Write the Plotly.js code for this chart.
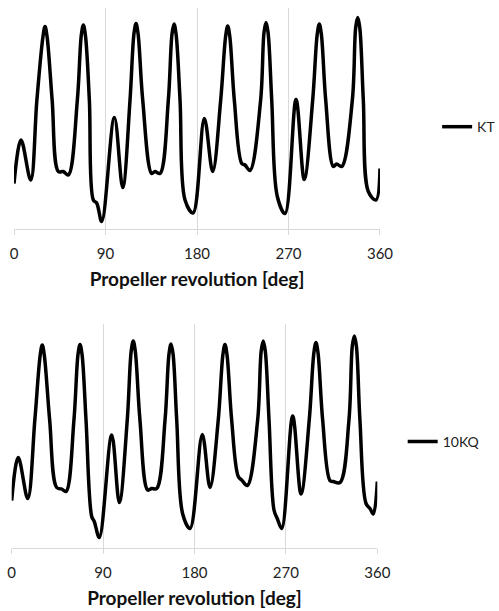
<!DOCTYPE html>
<html>
<head>
<meta charset="utf-8">
<script src="https://cdn.plot.ly/plotly-3.0.1.min.js"></script>
<style>html,body{margin:0;padding:0;background:#fff;}#chart{width:499px;height:611px;}</style>
</head>
<body>
<div id="chart"></div>
<script>
// Propeller revolution angle [deg] and KT values (top chart)
var ktDeg = [0, 6.9, 16.4, 22.5, 28.5, 30.5, 32.5, 37.5, 43.6, 48.5, 53.4, 62.3, 66.2, 68.2, 70.2, 74.1, 78.0, 81.3, 86.3,
  98.7, 106.9, 114.1, 118.0, 120.0, 122.0, 126.6, 135.4, 138.7, 143.6, 151.8, 155.4, 157.4, 159.4, 163.3, 168.2, 176.1,
  187.2, 195.4, 203.3, 208.2, 210.2, 212.2, 216.7, 224.0, 227.2, 232.1, 242.6, 245.9, 247.9, 249.9, 253.5, 259.0, 266.6,
  277.4, 285.5, 293.8, 298.3, 300.3, 302.3, 306.6, 314.1, 317.4, 322.3, 332.8, 336.1, 338.1, 340.1, 343.6, 348.5, 356.1, 360];
var ktVal = [0.091, 0.178, 0.098, 0.258, 0.385, 0.405, 0.385, 0.258, 0.115, 0.115, 0.108, 0.258, 0.388, 0.408, 0.388, 0.258, 0.058, 0.052, 0.015,
  0.223, 0.083, 0.258, 0.391, 0.411, 0.391, 0.258, 0.111, 0.115, 0.111, 0.258, 0.390, 0.410, 0.390, 0.258, 0.058, 0.032,
  0.221, 0.115, 0.258, 0.386, 0.406, 0.386, 0.258, 0.131, 0.128, 0.117, 0.258, 0.393, 0.413, 0.393, 0.258, 0.065, 0.031,
  0.259, 0.099, 0.258, 0.390, 0.410, 0.390, 0.258, 0.125, 0.130, 0.125, 0.258, 0.403, 0.423, 0.403, 0.258, 0.075, 0.058, 0.121];

// 10KQ values (bottom chart)
var kqDeg = [0, 6.5, 15.8, 22.8, 28.1, 30.1, 32.1, 37.4, 44.3, 49.2, 53.5, 61.3, 65.3, 67.3, 69.3, 73.2, 78.8, 81.3, 86.3,
  98.5, 106.0, 113.8, 117.7, 119.7, 121.7, 126.3, 133.9, 137.9, 142.8, 151.0, 154.9, 156.9, 158.9, 162.5, 168.4, 175.6,
  187.7, 195.3, 203.4, 208.0, 210.0, 212.0, 216.6, 223.1, 226.5, 232.0, 242.2, 245.7, 247.7, 249.7, 253.4, 258.3, 261.5, 265.9,
  276.7, 284.9, 293.0, 297.6, 299.6, 301.6, 306.2, 313.4, 316.7, 323.3, 332.1, 335.4, 337.4, 339.4, 342.9, 348.9, 352.8, 356.1, 360];
var kqVal = [0.095, 0.181, 0.099, 0.256, 0.386, 0.406, 0.386, 0.256, 0.121, 0.118, 0.113, 0.256, 0.387, 0.407, 0.387, 0.256, 0.063, 0.053, 0.021,
  0.226, 0.091, 0.256, 0.394, 0.414, 0.394, 0.256, 0.116, 0.119, 0.119, 0.256, 0.388, 0.408, 0.388, 0.256, 0.068, 0.039,
  0.227, 0.121, 0.256, 0.387, 0.407, 0.387, 0.256, 0.143, 0.136, 0.125, 0.256, 0.394, 0.414, 0.394, 0.256, 0.076, 0.059, 0.039,
  0.264, 0.108, 0.256, 0.391, 0.411, 0.391, 0.256, 0.135, 0.133, 0.131, 0.256, 0.404, 0.424, 0.404, 0.256, 0.089, 0.079, 0.068, 0.133];

var tickVals = [0, 90, 180, 270, 360];
var tickText = ['0', '90', '180', '270', '360'];
var xTitle = 'Propeller revolution [deg]';

var FONT = 'Lato, "Open Sans", sans-serif';

var traces = [
  {x: ktDeg, y: ktVal, type: 'scatter', mode: 'lines', name: 'KT',
   line: {color: '#000', width: 3.5, shape: 'spline', smoothing: 1}, xaxis: 'x', yaxis: 'y', legend: 'legend'},
  {x: kqDeg, y: kqVal, type: 'scatter', mode: 'lines', name: '10KQ',
   line: {color: '#000', width: 3.5, shape: 'spline', smoothing: 1}, xaxis: 'x2', yaxis: 'y2', legend: 'legend2'}
];

function xAxis(domain, anchor) {
  return {
    domain: domain, anchor: anchor, range: [0, 360],
    tickvals: tickVals, ticktext: tickText,
    showgrid: true, gridcolor: '#d9d9d9', gridwidth: 1,
    showline: true, linecolor: '#d9d9d9', linewidth: 1,
    ticks: 'outside', ticklen: 5, tickcolor: '#d9d9d9',
    ticklabelstandoff: 6,
    zeroline: false,
    tickfont: {family: FONT, size: 15, color: '#222'},
    title: {text: xTitle, standoff: 11, font: {family: FONT, size: 19, color: '#111', weight: 'bold'}}
  };
}
function yAxis(domain, anchor, range) {
  return {domain: domain, anchor: anchor, range: range, showgrid: false, zeroline: false,
    showline: false, showticklabels: false, ticks: ''};
}

var layout = {
  width: 499, height: 611,
  margin: {l: 0, r: 0, t: 0, b: 0, autoexpand: false},
  paper_bgcolor: '#fff', plot_bgcolor: '#fff',
  font: {family: FONT, color: '#222'},
  xaxis: xAxis([0.0281, 0.7615], 'y'),
  yaxis: yAxis([0.6252, 0.9869], 'x', [0, 0.442]),
  xaxis2: xAxis([0.0234, 0.7561], 'y2'),
  yaxis2: yAxis([0.1031, 0.4692], 'x2', [0, 0.4474]),
  legend: {x: 0.876, y: 0.792, xanchor: 'left', yanchor: 'middle', bgcolor: 'rgba(0,0,0,0)',
    font: {family: FONT, size: 14, color: '#222'}},
  legend2: {x: 0.807, y: 0.2766, xanchor: 'left', yanchor: 'middle', bgcolor: 'rgba(0,0,0,0)',
    font: {family: FONT, size: 14, color: '#222'}},
  showlegend: true
};

Plotly.newPlot('chart', traces, layout, {staticPlot: true, displayModeBar: false});
</script>
</body>
</html>
